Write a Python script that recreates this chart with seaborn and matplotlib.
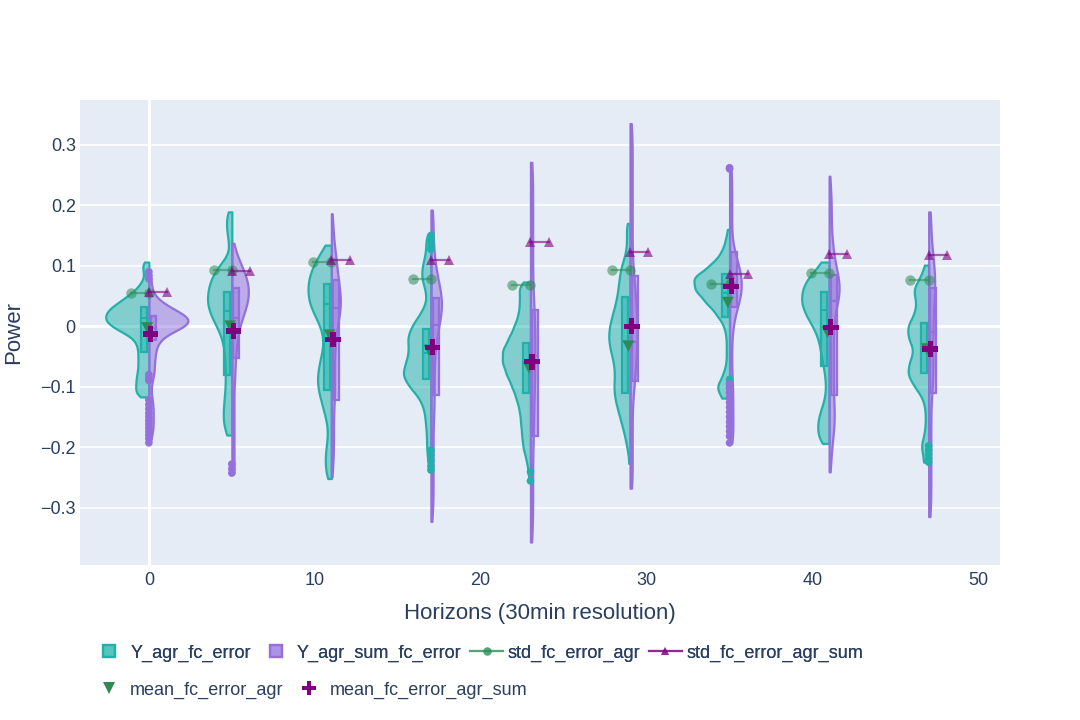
import matplotlib
matplotlib.use("Agg")
import matplotlib.pyplot as plt
from matplotlib.lines import Line2D
from matplotlib.colors import to_rgb
import numpy as np
import pandas as pd
import seaborn as sns

# horizons (x positions) and series names
horizons = [0, 5, 11, 17, 23, 29, 35, 41, 47]
series_names = ['Y_agr_fc_error', 'Y_agr_sum_fc_error']

agr_levels = [
    [0.106, 0.10, 0.09, 0.08, 0.07, 0.06, 0.05, 0.04, 0.03, 0.02, 0.01, 0.00, -0.01, -0.02, -0.03, -0.04, -0.05, -0.06, -0.07, -0.08, -0.09, -0.10, -0.11, -0.117],
    [0.189, 0.18, 0.16, 0.14, 0.12, 0.10, 0.08, 0.06, 0.04, 0.02, 0.00, -0.02, -0.04, -0.06, -0.08, -0.10, -0.12, -0.14, -0.16, -0.18],
    [0.134, 0.12, 0.10, 0.08, 0.06, 0.04, 0.02, 0.00, -0.02, -0.04, -0.06, -0.08, -0.10, -0.12, -0.14, -0.16, -0.18, -0.20, -0.22, -0.24, -0.252],
    [0.15, 0.14, 0.12, 0.10, 0.08, 0.06, 0.04, 0.02, 0.00, -0.02, -0.04, -0.06, -0.08, -0.10, -0.12, -0.14, -0.16, -0.18, -0.20, -0.22, -0.238],
    [0.073, 0.06, 0.04, 0.02, 0.00, -0.02, -0.04, -0.06, -0.08, -0.10, -0.12, -0.14, -0.16, -0.18, -0.20, -0.22, -0.24, -0.256],
    [0.170, 0.16, 0.14, 0.12, 0.10, 0.08, 0.06, 0.04, 0.02, 0.00, -0.02, -0.04, -0.06, -0.08, -0.10, -0.12, -0.14, -0.16, -0.18, -0.20, -0.227],
    [0.160, 0.14, 0.12, 0.10, 0.08, 0.06, 0.04, 0.02, 0.00, -0.02, -0.04, -0.06, -0.08, -0.10, -0.119],
    [0.106, 0.10, 0.08, 0.06, 0.04, 0.02, 0.00, -0.02, -0.04, -0.06, -0.08, -0.10, -0.12, -0.14, -0.16, -0.18, -0.194],
    [0.101, 0.08, 0.06, 0.04, 0.02, 0.00, -0.02, -0.04, -0.06, -0.08, -0.10, -0.12, -0.14, -0.16, -0.18, -0.20, -0.225],
]
agr_counts = [
    [3, 6, 5, 4, 8, 12, 20, 27, 36, 40, 41, 35, 24, 14, 11, 10, 10, 10, 10, 11, 12, 12, 12, 6],
    [2, 10, 10, 6, 4, 24, 38, 44, 46, 40, 28, 18, 14, 12, 12, 12, 14, 16, 16, 10],
    [6, 20, 34, 42, 44, 42, 32, 20, 14, 16, 22, 26, 26, 20, 14, 8, 6, 10, 12, 10, 4],
    [4, 8, 10, 16, 18, 10, 8, 20, 36, 44, 40, 46, 54, 40, 20, 12, 10, 8, 8, 6, 3],
    [8, 20, 20, 22, 30, 40, 52, 52, 44, 34, 26, 20, 18, 16, 14, 8, 4, 2],
    [3, 6, 6, 8, 16, 20, 22, 26, 32, 38, 40, 36, 30, 28, 30, 28, 22, 16, 10, 6, 3],
    [4, 8, 16, 36, 68, 64, 44, 24, 10, 6, 6, 6, 12, 24, 14],
    [6, 14, 40, 50, 52, 44, 30, 20, 16, 12, 8, 6, 8, 16, 22, 20, 8],
    [8, 16, 30, 22, 26, 40, 38, 26, 36, 40, 26, 10, 6, 6, 8, 16, 12],
]
sum_levels = [
    [0.09, 0.08, 0.07, 0.06, 0.05, 0.04, 0.03, 0.02, 0.01, 0.00, -0.01, -0.02, -0.03, -0.04, -0.05, -0.06, -0.07, -0.08, -0.09, -0.10, -0.11, -0.12, -0.13, -0.14, -0.15, -0.16, -0.17, -0.18, -0.193],
    [0.137, 0.12, 0.10, 0.08, 0.06, 0.04, 0.02, 0.00, -0.02, -0.04, -0.06, -0.08, -0.10, -0.12, -0.14, -0.16, -0.18, -0.20, -0.22, -0.243],
    [0.186, 0.16, 0.14, 0.12, 0.10, 0.08, 0.06, 0.04, 0.02, 0.00, -0.02, -0.04, -0.06, -0.08, -0.10, -0.12, -0.14, -0.16, -0.18, -0.20, -0.22, -0.249],
    [0.192, 0.18, 0.16, 0.14, 0.12, 0.10, 0.08, 0.06, 0.04, 0.02, 0.00, -0.02, -0.04, -0.06, -0.08, -0.10, -0.12, -0.14, -0.16, -0.18, -0.20, -0.22, -0.24, -0.26, -0.28, -0.30, -0.323],
    [0.271, 0.26, 0.24, 0.22, 0.20, 0.18, 0.16, 0.14, 0.12, 0.10, 0.08, 0.06, 0.04, 0.02, 0.00, -0.02, -0.04, -0.06, -0.08, -0.10, -0.12, -0.14, -0.16, -0.18, -0.20, -0.22, -0.24, -0.26, -0.28, -0.30, -0.32, -0.34, -0.357],
    [0.335, 0.32, 0.30, 0.28, 0.26, 0.24, 0.22, 0.20, 0.18, 0.16, 0.14, 0.12, 0.10, 0.08, 0.06, 0.04, 0.02, 0.00, -0.02, -0.04, -0.06, -0.08, -0.10, -0.12, -0.14, -0.16, -0.18, -0.20, -0.22, -0.24, -0.26, -0.268],
    [0.262, 0.24, 0.22, 0.20, 0.18, 0.16, 0.14, 0.12, 0.10, 0.08, 0.06, 0.04, 0.02, 0.00, -0.02, -0.04, -0.06, -0.08, -0.10, -0.12, -0.14, -0.16, -0.18, -0.193],
    [0.248, 0.22, 0.20, 0.18, 0.16, 0.14, 0.12, 0.10, 0.08, 0.06, 0.04, 0.02, 0.00, -0.02, -0.04, -0.06, -0.08, -0.10, -0.12, -0.14, -0.16, -0.18, -0.20, -0.22, -0.241],
    [0.189, 0.18, 0.16, 0.14, 0.12, 0.10, 0.08, 0.06, 0.04, 0.02, 0.00, -0.02, -0.04, -0.06, -0.08, -0.10, -0.12, -0.14, -0.16, -0.18, -0.20, -0.22, -0.24, -0.26, -0.28, -0.30, -0.315],
]
sum_counts = [
    [2, 2, 2, 3, 5, 11, 21, 32, 42, 36, 20, 11, 8, 6, 6, 5, 5, 5, 3, 2, 2, 3, 4, 4, 4, 4, 4, 3, 2],
    [2, 8, 18, 28, 32, 30, 22, 14, 10, 8, 6, 6, 4, 4, 4, 4, 4, 4, 4, 6],
    [2, 4, 4, 8, 10, 12, 16, 18, 16, 10, 8, 6, 6, 6, 6, 6, 4, 4, 4, 4, 4, 2],
    [2, 4, 4, 4, 6, 8, 12, 18, 22, 20, 14, 10, 8, 6, 6, 6, 6, 6, 4, 4, 4, 4, 4, 4, 4, 4, 2],
    [2, 4, 4, 4, 4, 4, 4, 4, 4, 4, 4, 4, 6, 8, 8, 8, 8, 8, 8, 8, 6, 6, 6, 6, 4, 4, 4, 4, 4, 4, 4, 4, 2],
    [2, 4, 4, 4, 4, 4, 4, 4, 4, 4, 4, 4, 4, 8, 10, 10, 12, 14, 14, 12, 10, 10, 8, 4, 4, 4, 4, 4, 4, 4, 4, 2],
    [4, 4, 4, 4, 4, 4, 4, 10, 18, 22, 24, 18, 10, 6, 4, 4, 4, 4, 6, 6, 6, 6, 6, 4],
    [2, 4, 4, 4, 4, 6, 8, 12, 18, 22, 16, 10, 8, 8, 8, 8, 8, 8, 8, 10, 10, 8, 4, 4, 2],
    [2, 4, 4, 4, 8, 10, 12, 12, 10, 8, 8, 8, 8, 8, 8, 8, 4, 4, 4, 4, 4, 4, 4, 4, 4, 4, 2],
]

# box quartiles
agr_q1 = [-0.043, -0.081, -0.106, -0.087, -0.110, -0.111, 0.015, -0.066, -0.078]
agr_med = [0.013, 0.025, 0.037, -0.045, -0.056, -0.026, 0.055, 0.026, -0.029]
agr_q3 = [0.031, 0.057, 0.069, -0.005, -0.028, 0.048, 0.087, 0.057, 0.006]
sum_q1 = [-0.023, -0.053, -0.122, -0.114, -0.182, -0.090, 0.032, -0.114, -0.111]
sum_med = [-0.003, 0.013, 0.030, 0.002, -0.050, -0.026, 0.087, 0.042, -0.010]
sum_q3 = [0.017, 0.063, 0.076, 0.046, 0.026, 0.083, 0.123, 0.084, 0.063]

# outlier points
agr_out = [[], [], [],
           [0.150, 0.145, 0.140, 0.133, 0.127, -0.205, -0.213, -0.222, -0.232, -0.238],
           [-0.241, -0.256], [], [-0.088, -0.095, -0.102], [],
           [-0.198, -0.205, -0.212, -0.219, -0.225]]
sum_out = [[0.090, 0.084, 0.078, -0.080, -0.085, -0.090, -0.122, -0.130, -0.137, -0.144, -0.150,
            -0.156, -0.162, -0.168, -0.174, -0.180, -0.186, -0.193],
           [-0.228, -0.236, -0.243], [], [], [], [],
           [0.262, 0.260, -0.095, -0.102, -0.110, -0.118, -0.126, -0.134, -0.142, -0.150, -0.158,
            -0.166, -0.174, -0.182, -0.193],
           [], []]

# summary lines
mean_agr = [-0.003, 0.000, -0.015, -0.040, -0.069, -0.033, 0.039, -0.010, -0.038]
mean_sum = [-0.013, -0.008, -0.022, -0.035, -0.059, 0.000, 0.066, -0.002, -0.038]
std_agr = [0.054, 0.093, 0.106, 0.078, 0.068, 0.093, 0.069, 0.088, 0.076]
std_sum = [0.057, 0.092, 0.110, 0.109, 0.139, 0.122, 0.086, 0.119, 0.117]

TEAL = '#20B2AA'
PURPLE = '#9370DB'
STD_G = '#2E8B57'
STD_P = '#800080'
TXT = '#2a3f5f'
BG = '#E5ECF6'

frames = []
for name, lv_all, ct_all in [(series_names[0], agr_levels, agr_counts),
                             (series_names[1], sum_levels, sum_counts)]:
    for h, lv, ct in zip(horizons, lv_all, ct_all):
        frames.append(pd.DataFrame({'horizon': h, 'series': name,
                                    'value': np.repeat(lv, ct)}))
df = pd.concat(frames, ignore_index=True)
n_obs = df.groupby(['horizon', 'series']).size()

plt.rcParams['font.family'] = ['Liberation Sans', 'DejaVu Sans']

fig = plt.figure(figsize=(10.8, 7.2), dpi=100)
ax = fig.add_axes([80 / 1080, 1 - 565 / 720, 920 / 1080, 465 / 720])
ax.set_facecolor(BG)

sns.violinplot(data=df, x='horizon', y='value', hue='series', hue_order=series_names,
               split=True, native_scale=True, cut=0, inner=None, density_norm='area',
               common_norm=True, bw_adjust=0.5, width=1.0, gap=0,
               palette={series_names[0]: TEAL, series_names[1]: PURPLE},
               saturation=1, linewidth=1.5, legend=False, ax=ax)

# scale each half by its sample count (plotly-like), keep the widest at ~2.6 x-units
halves = []
for coll in ax.collections:
    verts = coll.get_paths()[0].vertices.copy()
    h = min(horizons, key=lambda t: abs(t - verts[:, 0].mean()))
    rgb = to_rgb(coll.get_facecolor()[0][:3])
    name = series_names[0] if np.allclose(rgb, to_rgb(TEAL), atol=0.03) else series_names[1]
    verts[:, 0] = h + (verts[:, 0] - h) * n_obs[(h, name)]
    halves.append((coll, h, verts, rgb))
max_hw = max(np.abs(v[:, 0] - h).max() for _, h, v, _ in halves)
for coll, h, verts, rgb in halves:
    verts[:, 0] = h + (verts[:, 0] - h) * 2.6 / max_hw
    coll.set_verts([verts])
    coll.set_facecolor((*rgb, 0.5))
    coll.set_edgecolor(rgb)
    coll.set_linewidth(1.6)
    coll.set_zorder(2)

# boxes from the quartiles
for q1, med, q3, off, col in [(agr_q1, agr_med, agr_q3, -0.28, TEAL),
                              (sum_q1, sum_med, sum_q3, 0.28, PURPLE)]:
    stats = [{'q1': a, 'med': m, 'q3': b, 'whislo': a, 'whishi': b, 'fliers': []}
             for a, m, b in zip(q1, med, q3)]
    ax.bxp(stats, positions=[h + off for h in horizons], widths=0.36,
           patch_artist=True, showcaps=False, showfliers=False, manage_ticks=False,
           boxprops=dict(facecolor=(*to_rgb(col), 0.45), edgecolor=col, linewidth=1.6),
           medianprops=dict(color=col, linewidth=1.6),
           whiskerprops=dict(linewidth=0), zorder=3)

# outlier dots
for outs, col in [(agr_out, TEAL), (sum_out, PURPLE)]:
    xs = [h for h, o in zip(horizons, outs) for _ in o]
    ys = [v for o in outs for v in o]
    ax.scatter(xs, ys, s=30, color=col, edgecolor='none', zorder=4)

# std lines
for h, sa, ss in zip(horizons, std_agr, std_sum):
    ax.plot([h - 1.1, h], [sa, sa], color=STD_G, alpha=0.55, lw=1.6, marker='o',
            ms=7.5, markeredgewidth=0, zorder=5)
    ax.plot([h, h + 1.1], [ss, ss], color=STD_P, alpha=0.6, lw=1.6, marker='^',
            ms=7.5, markeredgewidth=0, zorder=5)

# mean markers
ax.scatter([h - 0.1 for h in horizons], mean_agr, marker='v', s=70, color=STD_G,
           edgecolor='none', zorder=6)
ax.scatter([h + 0.1 for h in horizons], mean_sum, marker='P', s=130, color=STD_P,
           edgecolor='none', zorder=7)

ax.set_xlim(-4.15, 51.3)
ax.set_ylim(-0.395, 0.374)
ax.set_yticks([-0.3, -0.2, -0.1, 0, 0.1, 0.2, 0.3])
ax.set_yticklabels(['\u22120.3', '\u22120.2', '\u22120.1', '0', '0.1', '0.2', '0.3'])
ax.set_xticks([0, 10, 20, 30, 40, 50])
ax.set_xticklabels(['0', '10', '20', '30', '40', '50'])
ax.grid(axis='y', color='white', lw=1.1)
ax.grid(axis='x', visible=False)
ax.axhline(0, color='white', lw=2.2, zorder=1)
ax.axvline(0, color='white', lw=2.2, zorder=1)
ax.set_axisbelow(True)
for sp in ax.spines.values():
    sp.set_visible(False)
ax.tick_params(length=0, labelsize=13, colors=TXT)
ax.tick_params(axis='y', pad=3)
ax.tick_params(axis='x', pad=5)
ax.set_xlabel('Horizons (30min resolution)', fontsize=16, color=TXT, labelpad=10)
ax.set_ylabel('Power', fontsize=16, color=TXT, labelpad=12)

# legend in two rows like the reference
h_box_a = Line2D([], [], ls='none', marker='s', ms=9, markerfacecolor=(*to_rgb(TEAL), 0.5),
                 markeredgecolor=TEAL, markeredgewidth=1.6)
h_box_s = Line2D([], [], ls='none', marker='s', ms=9, markerfacecolor=(*to_rgb(PURPLE), 0.5),
                 markeredgecolor=PURPLE, markeredgewidth=1.6)
h_std_a = Line2D([], [], color=STD_G, alpha=0.55, lw=1.6, marker='o', ms=6, markeredgewidth=0)
h_std_s = Line2D([], [], color=STD_P, alpha=0.6, lw=1.6, marker='^', ms=6, markeredgewidth=0)
h_mean_a = Line2D([], [], ls='none', marker='v', ms=8, color=STD_G, markeredgewidth=0)
h_mean_s = Line2D([], [], ls='none', marker='P', ms=10, color=STD_P, markeredgewidth=0)

leg_kw = dict(loc='center left', frameon=False, fontsize=13, handlelength=1.8,
              handletextpad=0.25, columnspacing=0.5, borderaxespad=0, labelcolor=TXT)
leg1 = fig.legend([h_box_a, h_box_s, h_std_a, h_std_s],
                  ['Y_agr_fc_error', 'Y_agr_sum_fc_error', 'std_fc_error_agr', 'std_fc_error_agr_sum'],
                  bbox_to_anchor=(86 / 1080, 1 - 653 / 720), ncol=4, **leg_kw)
leg2 = fig.legend([h_mean_a, h_mean_s], ['mean_fc_error_agr', 'mean_fc_error_agr_sum'],
                  bbox_to_anchor=(86 / 1080, 1 - 690 / 720), ncol=2, **leg_kw)
fig.add_artist(leg1)

fig.savefig('out.png', dpi=100, facecolor='white')
